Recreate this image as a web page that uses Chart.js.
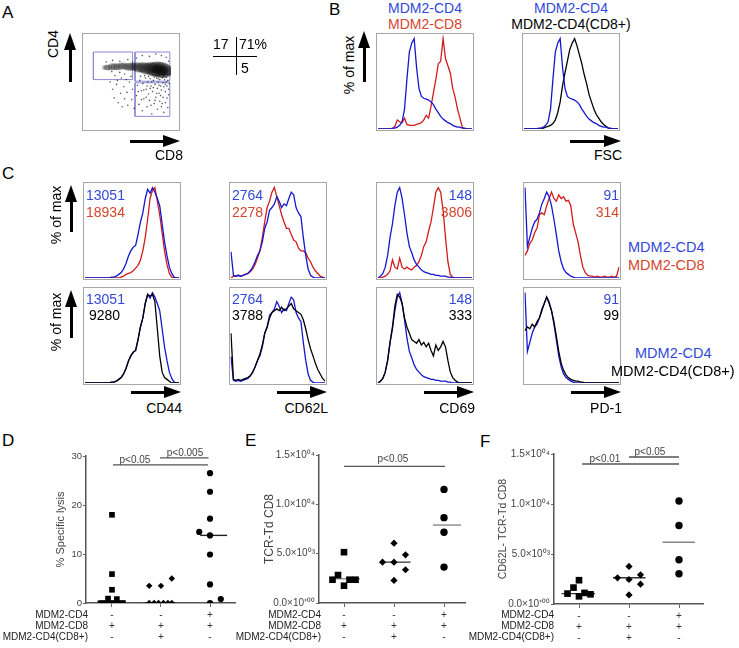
<!DOCTYPE html>
<html>
<head>
<meta charset="utf-8">
<title>MDM2 T cell figure</title>
<script src="https://cdn.jsdelivr.net/npm/chart.js@4.4.1/dist/chart.umd.min.js"></script>
<style>
  html, body { margin: 0; padding: 0; background: #fff; }
  #fig { position: relative; width: 739px; height: 648px; overflow: hidden;
         font-family: "Liberation Sans", Arial, Helvetica, sans-serif; }
  .box { position: absolute; width: 98px; height: 98px; border: 1px solid #a6a6a6; box-sizing: border-box; }
  .plot { position: absolute; }
  .t { position: absolute; white-space: nowrap; line-height: 1; z-index: 2; }
  .ink { position: absolute; background: #000; }
  .head { position: absolute; width: 0; height: 0; }
</style>
</head>
<body>
<div id="fig"></div>
<script>
// ---------------- data ----------------

// A: CD8 (x) vs CD4 (y) dot plot, display units 0-100
const bandDensity = [
  {x:17,y:68,r:2.5},{x:20,y:68,r:3},{x:23,y:68,r:3},{x:26,y:69,r:3.5},{x:29,y:69,r:3.5},
  {x:32,y:69,r:3.5},{x:35,y:69,r:3.5},{x:38,y:70,r:3.5},{x:41,y:70,r:3.5},{x:44,y:69,r:3.5},
  {x:47,y:69,r:4},{x:50,y:69,r:4},{x:53,y:69,r:4},{x:56,y:69,r:4.5},{x:59,y:68,r:5},
  {x:62,y:68,r:5},{x:65,y:68,r:5.5},{x:68,y:67,r:6},{x:71,y:67,r:6},{x:74,y:67,r:6.5},
  {x:77,y:66,r:7},{x:80,y:66,r:7.5},{x:83,y:66,r:8},{x:86,y:65,r:8},{x:89,y:65,r:8},
  {x:92,y:64,r:7.5},{x:95,y:64,r:6},{x:97,y:63,r:4},
  {x:80,y:66,r:4},{x:84,y:66,r:5},{x:88,y:64,r:5},{x:91,y:64,r:4.5}
];
const sparseEvents = [
  [27,41],[29,30],[32,47],[34,24],[37,36],[39,19],[41,44],[42,29],[45,37],[46,21],[48,50],[51,28],
  [52,41],[54,17],[33,52],[38,55],[44,53],[50,57],[24,50],[30,58],[42,60],[36,62],[26,63],
  [57,33],[58,46],[60,22],[61,52],[63,39],[64,14],[65,48],[66,29],[68,55],[69,41],[70,19],[71,50],
  [72,35],[73,27],[74,54],[75,45],[76,10],[77,38],[78,52],[79,23],[80,47],[81,31],[82,55],[83,16],
  [83,42],[84,50],[85,36],[86,26],[86,53],[87,45],[88,19],[88,40],[89,55],[90,31],[90,49],[91,12],
  [91,44],[92,53],[93,24],[93,38],[94,50],[94,56],[95,30],[95,45],[96,18],[96,52],[97,41],[97,34],
  [62,57],[67,58],[72,57],[77,59],[81,58],[85,58],[89,59],[92,60],[96,59],[87,33],[80,27],[74,42],
  [79,56],[84,54],[91,57],[76,50],[70,45],[66,40],[59,38],[63,28],[69,31],[75,21],[82,36],[89,23],
  [93,47],[85,46],[78,43],[98,48],
  [19,75],[27,77],[36,76],[46,78],[57,80],[64,83],[73,82],[81,85],[88,83],[94,81],[97,76],[52,75]
];
const gates = [
  [[3,53],[52,53],[52,87.5],[3,87.5],[3,53]],
  [[55,51],[98.5,51],[98.5,87.5],[55,87.5],[55,51]],
  [[55,7],[98.5,7],[98.5,49],[55,49],[55,7]]
];
const quadrantPct = ['17', '71%', '5'];

// B: FSC histograms, % of max in 40 bins
const fscCD4 = [0,0,0,0,0,0,1,1,2,4,8,22,55,85,95,100,68,45,36,34,33,32,30,27,22,18,14,11,9,7,6,4,3,2,2,1,1,0,0,0];
const fscCD8 = [0,0,0,0,0,0,0,3,10,8,7,12,5,4,4,4,5,6,7,10,15,12,25,40,55,72,75,100,78,70,62,45,35,22,12,2,0,0,0,0];
const fscCD4CD8 = [0,0,0,0,0,0,0,0,1,2,3,4,6,10,18,30,48,62,75,88,95,100,92,82,72,60,50,38,30,22,16,12,8,5,3,1,0,0,0,0];

// C: surface marker histograms, % of max in 40 bins
const markers = ['CD44', 'CD62L', 'CD69', 'PD-1'];
const mfiCD4 = [13051, 2764, 148, 91];
const mfiCD8 = [18934, 2278, 3806, 314];
const mfiCD4CD8 = [9280, 3788, 333, 99];

const cd44CD4 = [0,0,0,0,0,0,0,0,0,0,0,1,1,2,4,6,10,16,24,30,34,36,48,62,72,88,98,94,100,95,88,80,60,40,25,12,5,1,0,0];
const cd44CD8 = [0,0,0,0,0,0,0,0,0,0,0,0,0,0,0,1,2,4,5,6,8,11,14,20,30,45,65,88,97,100,85,70,50,30,15,5,1,0,0,0];
const cd44CD4CD8 = [0,0,0,0,0,0,0,0,0,0,0,1,1,2,4,6,10,16,24,30,34,36,48,62,72,88,98,96,98,90,60,30,12,6,4,2,0,0,0,0];

const cd62lCD4 = [29,3,2,3,2,3,4,5,8,12,18,25,30,40,55,62,75,78,82,90,85,78,82,80,88,95,92,78,72,68,45,25,10,3,1,0,0,0,0,0];
const cd62lCD8 = [0,2,2,3,2,3,4,5,7,10,15,22,30,45,62,78,85,95,100,90,80,70,62,55,55,48,42,40,33,30,30,28,22,18,12,8,5,2,1,0];
const cd62lCD4CD8 = [55,4,3,4,3,4,5,6,8,12,18,25,32,42,55,62,72,78,80,82,80,84,80,82,85,88,82,80,78,76,70,60,48,38,30,22,15,10,5,2];

const cd69CD4 = [0,2,5,12,25,45,60,80,95,100,88,70,50,35,28,20,15,12,9,7,6,5,4,4,3,3,2,2,2,1,1,0,0,0,0,0,0,0,0,0];
const cd69CD8 = [0,0,1,2,4,8,20,12,10,22,12,10,12,10,9,12,14,18,25,35,40,52,62,78,95,100,95,75,45,18,4,1,0,0,0,0,0,0,0,0];
const cd69CD4CD8 = [0,2,5,12,25,45,62,85,98,95,88,72,62,55,48,46,44,48,42,45,40,44,36,30,42,36,40,46,40,25,12,6,3,1,0,0,0,0,0,0];

const pd1CD4 = [100,35,45,55,62,65,72,82,88,95,90,80,65,48,30,18,10,6,4,2,1,0,0,0,0,0,0,0,0,0,0,0,0,0,0,0,0,0,0,0];
const pd1CD8 = [25,30,38,42,50,55,70,72,70,80,88,95,88,85,92,88,90,85,86,80,60,50,40,25,12,6,3,2,2,1,2,1,1,2,1,1,2,1,2,12];
const pd1CD4CD8 = [58,62,60,65,62,68,72,80,88,95,88,80,68,52,35,22,14,9,6,4,3,2,2,1,1,0,0,0,0,0,0,0,0,0,0,0,0,0,0,0];

// D-F: group rows and values
const rowNames = ['MDM2-CD4', 'MDM2-CD8', 'MDM2-CD4(CD8+)'];
const signCD4 = ['-', '-', '+'];
const signCD8 = ['+', '+', '+'];
const signCD4CD8 = ['-', '+', '-'];

const lysisTicks = ['0', '10', '20', '30'];
const countTicks = ['0.0\u00d710\u207a\u2070\u2070', '5.0\u00d710\u2070\u00b3', '1.0\u00d710\u2070\u2074', '1.5\u00d710\u2070\u2074'];

const lysisCD8 = [18, 5.9, 2.7, 0.9, 0.8, 0, 0, 0, 0, 0];
const lysisCD8Jitter = [0, 0, 0, -0.08, 0.1, -0.22, -0.11, 0, 0.11, 0.22];
const lysisCD8Mix = [3.5, 3.5, 5.0, 0, 0, 0, 0, 0, 0];
const lysisCD8MixJitter = [-0.24, 0, 0.22, -0.24, -0.14, -0.05, 0.05, 0.14, 0.22];
const lysisCD4CD8 = [26.5, 22.7, 17.2, 14.5, 13.8, 9.9, 3.8, 0, 0.8];
const lysisCD4CD8Jitter = [0, 0, 0, -0.22, 0, 0, 0, 0, 0.22];
const lysisMedians = [0.3, 0, 13.8];

const tcrCD8 = [5150, 2830, 2360, 1750, 2360, 2360];
const tcrCD8Jitter = [0, -0.12, -0.23, 0, 0.11, 0.23];
const tcrCD8Mix = [6060, 4140, 4140, 4880, 3370, 2290];
const tcrCD8MixJitter = [0, -0.23, 0, 0.23, 0.23, 0];
const tcrCD4CD8 = [11515, 8650, 7170, 3640];
const tcrCD4CD8Jitter = [0, 0, 0, 0];
const tcrMedians = [2460, 4140, 7900];

const cd62lnegCD8 = [2380, 1640, 1040, 770, 1110, 970];
const cd62lnegCD8Jitter = [0, -0.11, -0.23, 0, 0.11, 0.23];
const cd62lnegCD8Mix = [3760, 2620, 2450, 2920, 1980, 910];
const cd62lnegCD8MixJitter = [0, -0.23, 0, 0.23, 0.23, 0];
const cd62lnegCD4CD8 = [10300, 7850, 4430, 3020];
const cd62lnegCD4CD8Jitter = [0, 0, 0, 0];
const cd62lnegMedians = [1040, 2620, 6170];

// ---------------- drawing ----------------
const FAMILY = '"Liberation Sans", Arial, Helvetica, sans-serif';
Chart.defaults.font.family = FAMILY;
Chart.defaults.animation = false;
Chart.defaults.plugins.legend.display = false;
Chart.defaults.plugins.tooltip.enabled = false;

const BLUE = '#1616d0', RED = '#d21c1c', BLACK = '#000';
const BLUE_TXT = '#3348d8', RED_TXT = '#d6452d';
const fig = document.getElementById('fig');

function label(text, x, y, size, color, align, rotate) {
  const d = document.createElement('div');
  d.className = 't';
  d.textContent = text;
  d.style.left = x + 'px';
  d.style.top = y + 'px';
  d.style.fontSize = size + 'px';
  d.style.color = color || '#000';
  const tx = align === 'right' ? '-100%' : align === 'center' ? '-50%' : '0';
  d.style.transform = 'translate(' + tx + ',-50%)' + (rotate ? ' rotate(-90deg)' : '');
  fig.appendChild(d);
}

function ink(x, y, w, h) {
  const d = document.createElement('div');
  d.className = 'ink';
  Object.assign(d.style, {left: x + 'px', top: y + 'px', width: w + 'px', height: h + 'px'});
  fig.appendChild(d);
}

function arrowH(x1, x2, y) {
  ink(x1, y - 1.5, x2 - x1 - 14, 3);
  const h = document.createElement('div');
  h.className = 'head';
  Object.assign(h.style, {left: (x2 - 17) + 'px', top: (y - 6.5) + 'px',
    borderLeft: '17px solid #000', borderTop: '6.5px solid transparent', borderBottom: '6.5px solid transparent'});
  fig.appendChild(h);
}

function arrowV(x, yBottom, yTip) {
  ink(x - 1.5, yTip + 14, 3, yBottom - yTip - 14);
  const h = document.createElement('div');
  h.className = 'head';
  Object.assign(h.style, {left: (x - 6.5) + 'px', top: yTip + 'px',
    borderBottom: '17px solid #000', borderLeft: '6.5px solid transparent', borderRight: '6.5px solid transparent'});
  fig.appendChild(h);
}

function canvasIn(cls, left, top, w, h) {
  const d = document.createElement('div');
  d.className = cls;
  Object.assign(d.style, {left: left + 'px', top: top + 'px', width: w + 'px', height: h + 'px'});
  const c = document.createElement('canvas');
  d.appendChild(c);
  fig.appendChild(d);
  return c;
}

function hist(left, top, curves) {
  const c = canvasIn('box', left, top, 98, 98);
  new Chart(c, {
    type: 'line',
    data: {
      labels: curves[0].data.map((_, i) => i),
      datasets: curves.map(cv => ({
        data: cv.data, borderColor: cv.color, borderWidth: 1.3,
        pointRadius: 0, tension: 0, fill: false
      }))
    },
    options: {
      responsive: true, maintainAspectRatio: false,
      layout: {padding: 1},
      scales: {x: {display: false}, y: {display: false, min: 0, max: 104}}
    }
  });
}

// ---- panel letters ----
label('A', 2, 12, 17); label('B', 329, 9, 17); label('C', 2, 173, 17);
label('D', 2, 440, 17); label('E', 245, 440, 17); label('F', 480, 441, 17);

// ---- A ----
(function () {
  const c = canvasIn('box', 82, 33, 98, 98);
  const datasets = [
    {type: 'bubble', data: bandDensity, backgroundColor: 'rgba(0,0,0,0.3)', borderWidth: 0},
    {type: 'scatter', data: sparseEvents.map(p => ({x: p[0], y: p[1]})),
     pointRadius: 0.8, backgroundColor: 'rgba(0,0,0,0.65)', borderWidth: 0}
  ];
  gates.forEach(g => datasets.push({
    type: 'line', data: g.map(p => ({x: p[0], y: p[1]})),
    borderColor: '#8a8ad6', borderWidth: 1, pointRadius: 0, fill: false
  }));
  new Chart(c, {
    type: 'bubble',
    data: {datasets},
    options: {
      responsive: true, maintainAspectRatio: false,
      layout: {padding: 0},
      scales: {x: {type: 'linear', display: false, min: 0, max: 100},
               y: {type: 'linear', display: false, min: 0, max: 100}}
    }
  });
})();
label('CD4', 53, 44, 14, '#000', 'center', true);
arrowV(70, 82, 33);
arrowH(130, 180, 141);
label('CD8', 183, 155, 14, '#000', 'right');
label(quadrantPct[0], 213, 44, 14);
label(quadrantPct[1], 239, 44, 14);
label(quadrantPct[2], 241, 68, 14);
ink(235.5, 37, 1.5, 38);
ink(213, 55.5, 44, 1.5);

// ---- B ----
hist(376, 33, [{data: fscCD4, color: BLUE}, {data: fscCD8, color: RED}]);
hist(522, 33, [{data: fscCD4, color: BLUE}, {data: fscCD4CD8, color: BLACK}]);
label('MDM2-CD4', 425, 8, 14, BLUE_TXT, 'center');
label('MDM2-CD8', 425, 24, 14, RED_TXT, 'center');
label('MDM2-CD4', 571, 8, 14, BLUE_TXT, 'center');
label('MDM2-CD4(CD8+)', 571, 24, 14, '#000', 'center');
label('% of max', 349, 65, 14, '#000', 'center', true);
arrowV(364, 82, 31);
arrowH(570, 621, 141);
label('FSC', 622, 155, 14, '#000', 'right');

// ---- C ----
const boxLeft = [83, 229, 376, 523];
const rowTop = [182, 287];
const histCD4 = [cd44CD4, cd62lCD4, cd69CD4, pd1CD4];
const histCD8 = [cd44CD8, cd62lCD8, cd69CD8, pd1CD8];
const histCD4CD8 = [cd44CD4CD8, cd62lCD4CD8, cd69CD4CD8, pd1CD4CD8];

markers.forEach((m, i) => {
  const L = boxLeft[i];
  hist(L, rowTop[0], [{data: histCD4[i], color: BLUE}, {data: histCD8[i], color: RED}]);
  hist(L, rowTop[1], [{data: histCD4CD8[i], color: BLACK}, {data: histCD4[i], color: BLUE}]);
  const right = i >= 2;
  const ax = right ? L + 96 : L + 3;
  const al = right ? 'right' : 'left';
  label(String(mfiCD4[i]), ax, 195, 14, BLUE_TXT, al);
  label(String(mfiCD8[i]), ax, 212, 14, RED_TXT, al);
  label(String(mfiCD4CD8[i]), i === 0 ? L + 6 : ax, 315, 14, '#000', al);
  label(String(mfiCD4[i]), ax, 299, 14, BLUE_TXT, al);
  arrowH(L + 48, L + 98, 392);
  label(m, L + 99, 408, 14, '#000', 'right');
});
label('% of max', 56, 215, 14, '#000', 'center', true);
arrowV(71, 232, 185);
label('% of max', 56, 322, 14, '#000', 'center', true);
arrowV(71, 338, 290);
label('MDM2-CD4', 628, 247, 14.5, BLUE_TXT);
label('MDM2-CD8', 628, 265, 14.5, RED_TXT);
label('MDM2-CD4', 635, 353, 14.5, BLUE_TXT);
label('MDM2-CD4(CD8+)', 611, 371, 14.5, '#000');

// ---- D, E, F ----
function dotPlot(cfg) {
  const c = canvasIn('plot', cfg.left, 440, cfg.width, 208);
  const datasets = [];
  cfg.groups.forEach((g, gi) => {
    datasets.push({
      type: 'scatter',
      data: g.values.map((v, k) => ({x: gi + 1 + g.jitter[k], y: v})),
      pointStyle: g.style, pointRadius: g.r, backgroundColor: '#000', borderColor: '#000', borderWidth: 0
    });
    datasets.push({
      type: 'scatter', showLine: true,
      data: [{x: gi + 1 + cfg.medSpan[gi][0], y: cfg.medians[gi]}, {x: gi + 1 + cfg.medSpan[gi][1], y: cfg.medians[gi]}],
      borderColor: cfg.medColor[gi], borderWidth: 1.4, pointRadius: 0
    });
  });
  cfg.brackets.forEach(b => datasets.push({
    type: 'scatter', showLine: true,
    data: [{x: b.x[0], y: b.y}, {x: b.x[1], y: b.y}],
    borderColor: '#555', borderWidth: 1.3, pointRadius: 0
  }));
  new Chart(c, {
    type: 'scatter',
    data: {datasets},
    options: {
      responsive: true, maintainAspectRatio: false,
      layout: {padding: {top: cfg.padTop, right: 5, bottom: 0, left: 0}},
      scales: {
        x: {
          type: 'linear', min: cfg.xmin, max: cfg.xmax,
          afterBuildTicks: a => { a.ticks = [1, 2, 3].map(v => ({value: v})); },
          afterFit: a => { a.height = cfg.xh; },
          grid: {drawOnChartArea: false, drawTicks: true, tickLength: 4, color: '#666'},
          border: {color: '#555', width: 1.5},
          ticks: {
            color: '#333', padding: 3, maxRotation: 0, autoSkip: false,
            font: {size: 10, lineHeight: 1.1},
            callback: (v, i) => [signCD4[i], signCD8[i], signCD4CD8[i]]
          }
        },
        y: {
          min: 0, max: cfg.ymax,
          afterFit: a => { a.width = cfg.yw; },
          grid: {drawOnChartArea: false, drawTicks: true, tickLength: 3, color: '#666'},
          border: {color: '#555', width: 1.5},
          ticks: {
            stepSize: cfg.ymax / 3, color: '#444', padding: 1,
            font: {size: cfg.tickSize},
            callback: (v, i) => cfg.tickLabels[i]
          },
          title: {display: true, text: cfg.title, color: '#444',
                  font: {size: cfg.titleSize}, padding: {top: 0, bottom: 0}}
        }
      }
    }
  });
  rowNames.forEach((n, k) => label(n, cfg.rowRight, 615 + 11 * k, 10, '#222', 'right'));
  cfg.pTexts.forEach(p => label(p.text, p.x, p.y, 10, '#444', 'center'));
}

dotPlot({
  left: 54, width: 186, padTop: 16, yw: 32, xh: 45, xmin: 0.47, xmax: 3.51, ymax: 30,
  tickLabels: lysisTicks, tickSize: 9.5, title: '% Specific lysis', titleSize: 11, rowRight: 88,
  groups: [
    {values: lysisCD8, jitter: lysisCD8Jitter, style: 'rect', r: 4},
    {values: lysisCD8Mix, jitter: lysisCD8MixJitter, style: 'rectRot', r: 3.2},
    {values: lysisCD4CD8, jitter: lysisCD4CD8Jitter, style: 'circle', r: 3.1}
  ],
  medians: lysisMedians, medSpan: [[-0.3, 0.28], [-0.35, 0.3], [-0.2, 0.35]],
  medColor: ['#222', '#222', '#222'],
  brackets: [{x: [1.02, 2.96], y: 28.2}, {x: [1.98, 2.97], y: 29.6}],
  pTexts: [{text: 'p<0.05', x: 135, y: 460}, {text: 'p<0.005', x: 185, y: 453}]
});

dotPlot({
  left: 262, width: 208, padTop: 15, yw: 57, xh: 45, xmin: 0.5, xmax: 3.42, ymax: 15000,
  tickLabels: countTicks, tickSize: 10, title: 'TCR-Td CD8', titleSize: 12, rowRight: 321,
  groups: [
    {values: tcrCD8, jitter: tcrCD8Jitter, style: 'rect', r: 4.7},
    {values: tcrCD8Mix, jitter: tcrCD8MixJitter, style: 'rectRot', r: 3.6},
    {values: tcrCD4CD8, jitter: tcrCD4CD8Jitter, style: 'circle', r: 3.7}
  ],
  medians: tcrMedians, medSpan: [[-0.28, 0.32], [-0.28, 0.33], [-0.22, 0.34]],
  medColor: ['#888', '#444', '#888'],
  brackets: [{x: [1.0, 3.02], y: 13840}],
  pTexts: [{text: 'p<0.05', x: 393, y: 459}]
});

dotPlot({
  left: 497, width: 211, padTop: 14, yw: 57, xh: 44, xmin: 0.5, xmax: 3.48, ymax: 15000,
  tickLabels: countTicks, tickSize: 10, title: 'CD62L- TCR-Td CD8', titleSize: 10.5, rowRight: 554,
  groups: [
    {values: cd62lnegCD8, jitter: cd62lnegCD8Jitter, style: 'rect', r: 4.7},
    {values: cd62lnegCD8Mix, jitter: cd62lnegCD8MixJitter, style: 'rectRot', r: 3.6},
    {values: cd62lnegCD4CD8, jitter: cd62lnegCD4CD8Jitter, style: 'circle', r: 3.7}
  ],
  medians: cd62lnegMedians, medSpan: [[-0.35, 0.32], [-0.32, 0.33], [-0.33, 0.32]],
  medColor: ['#333', '#333', '#888'],
  brackets: [{x: [1.06, 3.0], y: 14000}, {x: [2.0, 3.0], y: 14700}],
  pTexts: [{text: 'p<0.01', x: 605, y: 459}, {text: 'p<0.05', x: 650, y: 452}]
});
</script>
</body>
</html>
